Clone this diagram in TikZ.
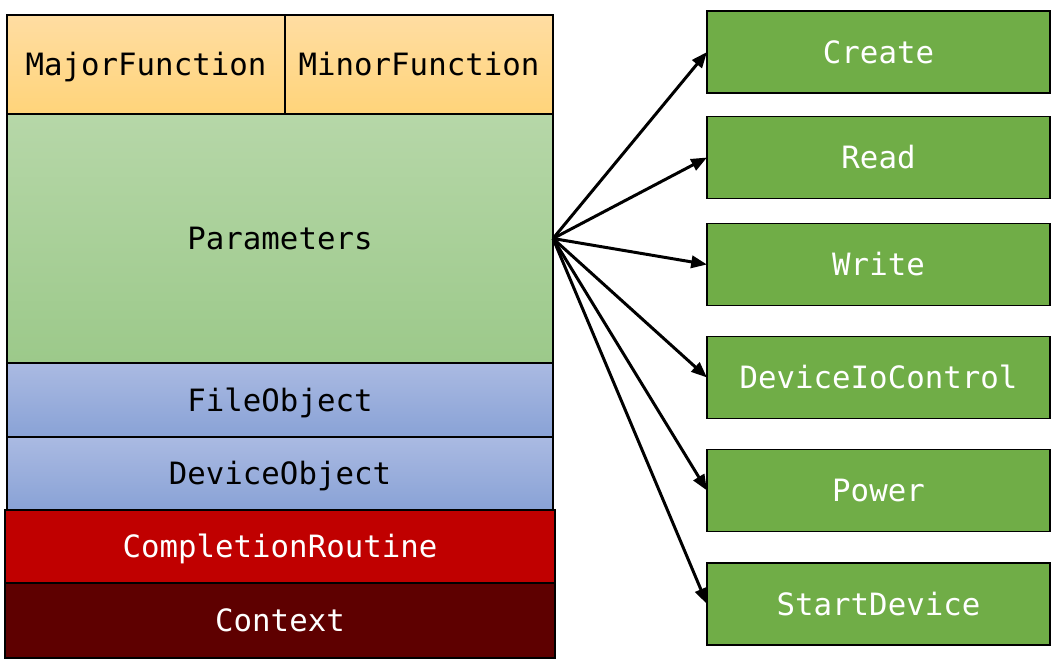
\documentclass[tikz,border=0pt]{standalone}
\usepackage{fontspec}
\setmonofont{DejaVu Sans Mono}
\usetikzlibrary{arrows.meta}

\definecolor{orangetop}{HTML}{FFDDA2}
\definecolor{orangebot}{HTML}{FFD47A}
\definecolor{greentop}{HTML}{B6D7A8}
\definecolor{greenbot}{HTML}{9CC98A}
\definecolor{bluetop}{HTML}{AABAE2}
\definecolor{bluebot}{HTML}{89A2D6}
\definecolor{routinered}{HTML}{C00000}
\definecolor{contextred}{HTML}{5E0000}
\definecolor{majorgreen}{HTML}{70AD47}

\tikzset{
    field/.style={draw=black, line width=1pt, inner sep=0pt, outer sep=0pt,
        text height=12.8pt, text depth=0pt,
        font=\ttfamily\fontsize{17.5}{20}\selectfont},
    irpfunc/.style={field, fill=majorgreen, text=white,
        minimum width=6.86cm, minimum height=1.64cm},
    calls/.style={line width=1.7pt, -{Triangle[length=9pt,width=7pt]}}
}

\begin{document}
\begin{tikzpicture}

    \useasboundingbox (0,0) rectangle (21.16,-13.38);

    % irp stack
    \node[field, top color=orangetop, bottom color=orangebot,
        minimum width=5.56cm, minimum height=1.98cm] (major) at (2.92,-1.29) {MajorFunction};
    \node[field, top color=orangetop, bottom color=orangebot,
        minimum width=5.36cm, minimum height=1.98cm] (minor) at (8.38,-1.29) {MinorFunction};
    \node[field, top color=greentop, bottom color=greenbot,
        minimum width=10.92cm, minimum height=4.98cm] (params) at (5.6,-4.77) {Parameters};
    \node[field, top color=bluetop, bottom color=bluebot,
        minimum width=10.92cm, minimum height=1.48cm] (fileobj) at (5.6,-8.0) {FileObject};
    \node[field, top color=bluetop, bottom color=bluebot,
        minimum width=10.92cm, minimum height=1.46cm] (devobj) at (5.6,-9.47) {DeviceObject};
    \node[field, fill=routinered, text=white,
        minimum width=11cm, minimum height=1.46cm] (routine) at (5.6,-10.93) {CompletionRoutine};
    \node[field, fill=contextred, text=white,
        minimum width=11cm, minimum height=1.5cm] (context) at (5.6,-12.41) {Context};

    % major functions
    \node[irpfunc] (create) at (17.57,-1.04) {Create};
    \node[irpfunc] (read) at (17.57,-3.15) {Read};
    \node[irpfunc] (write) at (17.57,-5.29) {Write};
    \node[irpfunc] (ioctl) at (17.57,-7.55) {DeviceIoControl};
    \node[irpfunc] (power) at (17.57,-9.81) {Power};
    \node[irpfunc] (start) at (17.57,-12.08) {StartDevice};

    \draw[calls] (params.east) -- (create.west);
    \draw[calls] (params.east) -- (read.west);
    \draw[calls] (params.east) -- (write.west);
    \draw[calls] (params.east) -- (ioctl.west);
    \draw[calls] (params.east) -- (power.west);
    \draw[calls] (params.east) -- (start.west);

\end{tikzpicture}
\end{document}
